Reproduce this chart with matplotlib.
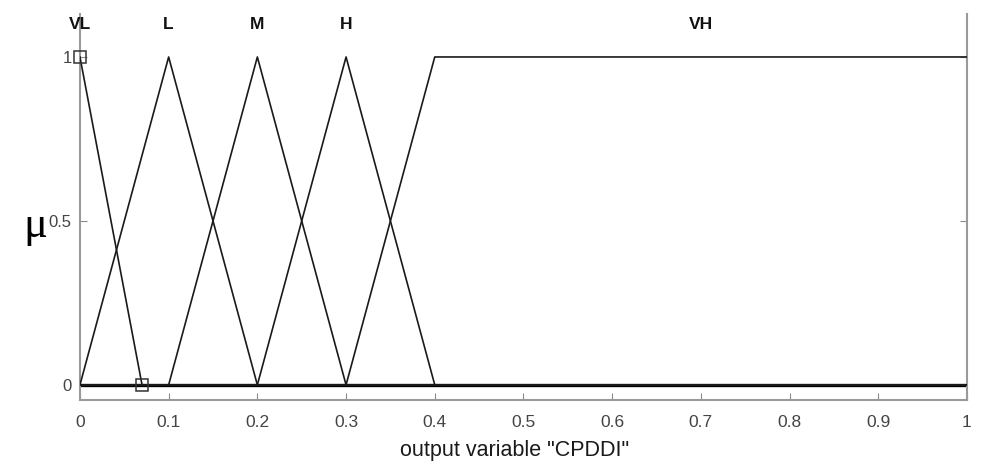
import matplotlib
matplotlib.use("Agg")
import matplotlib.pyplot as plt

plt.rcParams["font.family"] = ["Liberation Sans", "DejaVu Sans"]

# membership functions of output variable "CPDDI": breakpoints (x, mu)
MF_NAMES = ["VL", "L", "M", "H", "VH"]
MF_X = [
    [0.0, 0.07, 1.0],
    [0.0, 0.1, 0.2, 1.0],
    [0.0, 0.1, 0.2, 0.3, 1.0],
    [0.0, 0.2, 0.3, 0.4, 1.0],
    [0.0, 0.3, 0.4, 1.0],
]
MF_Y = [
    [1, 0, 0],
    [0, 1, 0, 0],
    [0, 0, 1, 0, 0],
    [0, 0, 1, 0, 0],
    [0, 0, 1, 1],
]
LABEL_X = [0.0, 0.1, 0.2, 0.3, 0.7]
# selected MF end markers
SEL_X = [0.0, 0.07]
SEL_Y = [1, 0]

X_TICKS = [0, 0.1, 0.2, 0.3, 0.4, 0.5, 0.6, 0.7, 0.8, 0.9, 1]
X_TICKLABELS = ["0", "0.1", "0.2", "0.3", "0.4", "0.5", "0.6", "0.7", "0.8", "0.9", "1"]
Y_TICKS = [0, 0.5, 1]
Y_TICKLABELS = ["0", "0.5", "1"]

GREY = "#8a8a8a"

fig = plt.figure(figsize=(9.81, 4.67), dpi=100)
ax = fig.add_axes([0.0815, 0.1435, 0.9042, 0.8265])

for xs, ys in zip(MF_X, MF_Y):
    ax.plot(xs, ys, color="#1a1a1a", lw=1.2, zorder=3)
ax.axhline(0, color="black", lw=2.4, zorder=2)

for name, lx in zip(MF_NAMES, LABEL_X):
    ax.text(lx, 1.1, name, ha="center", va="center", fontsize=12.5,
            color="#111111", fontweight="semibold")

ax.plot(SEL_X, SEL_Y, ls="none", marker="s", ms=9, mfc="none", mec="#333333",
        mew=1.1, zorder=4, clip_on=False)

ax.set_xlim(0, 1)
ax.set_ylim(-0.046, 1.131)
ax.set_xticks(X_TICKS)
ax.set_xticklabels(X_TICKLABELS)
ax.set_yticks(Y_TICKS)
ax.set_yticklabels(Y_TICKLABELS)
ax.tick_params(direction="in", colors=GREY, labelcolor="#444444", labelsize=12.5,
               length=5, top=False, right=True)
ax.tick_params(axis="x", pad=11)
ax.tick_params(axis="y", labelsize=12, pad=6)
for side in ["left", "right", "bottom"]:
    ax.spines[side].set_color("#9a9a9a")
    ax.spines[side].set_linewidth(1.5)
ax.spines["top"].set_visible(False)

ax.set_xlabel('output variable "CPDDI"', fontsize=15.5, color="#1a1a1a")
ax.xaxis.set_label_coords(0.49, -0.13)
ax.xaxis.label.set_va("center")
fig.text(0.036, 0.515, "\u03bc", fontsize=32, ha="center", va="center",
         color="black", family="Liberation Serif")

fig.savefig("out.png", dpi=100)
